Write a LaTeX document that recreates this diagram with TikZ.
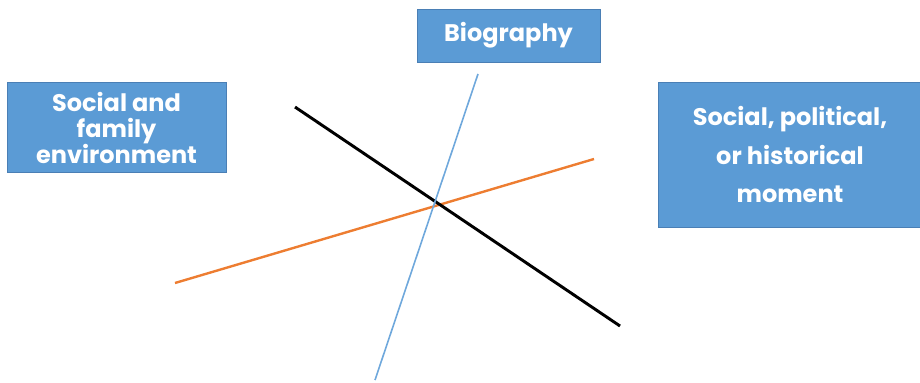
\documentclass[tikz,border=0pt]{standalone}
\usepackage{fontspec}
\setmainfont{Poppins}
\usetikzlibrary{positioning}
\definecolor{boxblue}{HTML}{5B9BD5}
\definecolor{boxedge}{HTML}{4A7FB5}
\definecolor{axisblue}{HTML}{6FA8DC}
\definecolor{axisorange}{HTML}{ED7D31}

\begin{document}
\begin{tikzpicture}[
    x=0.75pt, y=-0.75pt,
    box/.style={draw=boxedge, line width=0.6pt, fill=boxblue, text=white, align=center, font=\fontsize{18}{19.5}\selectfont\bfseries, inner sep=0pt},
    axis/.style={line width=1.8pt}
]
\useasboundingbox (0,0) rectangle (920,382);
\node[box, minimum width=183*0.75pt, minimum height=53*0.75pt] (bio) at (508.5,35.5) {Biography};
\node[box, minimum width=219*0.75pt, minimum height=90*0.75pt] (family) at (116.5,127.5) {Social and\\family\\environment};
\node[box, minimum width=264*0.75pt, minimum height=145*0.75pt, font=\fontsize{18}{29}\selectfont\bfseries] (moment) at (790,154.5) {Social, political,\\or historical\\moment};

\coordinate (b1) at (478,74);
\coordinate (b2) at (375,380);
\coordinate (o1) at (175,283);
\coordinate (o2) at (594,159);
\coordinate (k1) at (295,107);
\coordinate (k2) at (620,326);

\draw[axis, axisorange] (o1) -- (o2);
\draw[axis, black, line width=2.2pt] (k1) -- (k2);
\draw[axis, axisblue, line width=1.2pt] (b1) -- (b2);
\end{tikzpicture}
\end{document}
